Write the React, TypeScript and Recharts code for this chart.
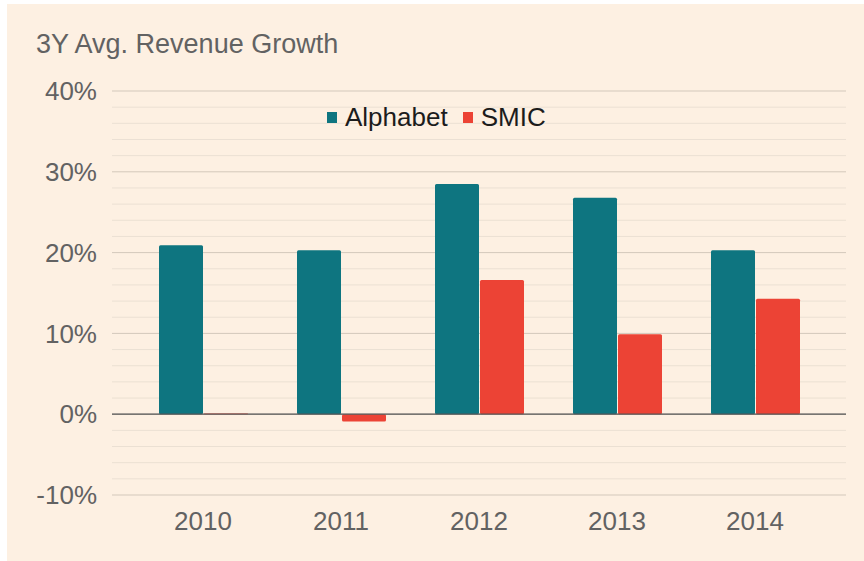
import {
  BarChart,
  Bar,
  XAxis,
  YAxis,
  CartesianGrid,
  ReferenceLine,
  Legend,
} from 'recharts';

const years = ['2010', '2011', '2012', '2013', '2014'];
const alphabet = [20.9, 20.3, 28.5, 26.8, 20.3];
const smic = [0.1, -0.9, 16.6, 9.9, 14.3];
const majorTicks = [-10, 0, 10, 20, 30, 40];
const minorTicks = [-8, -6, -4, -2, 2, 4, 6, 8, 12, 14, 16, 18, 22, 24, 26, 28, 32, 34, 36, 38];

const data = years.map((year, i) => ({
  year,
  Alphabet: alphabet[i],
  SMIC: smic[i],
}));

const colors = {
  bg: '#fdf0e2',
  teal: '#0e7580',
  red: '#ec4335',
  major: '#d3c8bb',
  minor: '#ebe0d3',
  zero: '#555555',
  label: '#626262',
  legendText: '#1c1c1c',
};

const font = '"Liberation Sans", Arial, sans-serif';

function TopLegend({ payload }: { payload?: { value: string; color: string }[] }) {
  if (!payload?.length) return null;
  return (
    <div style={{ display: 'flex', alignItems: 'center', fontFamily: font }}>
      {payload.map((entry, i) => (
        <div
          key={entry.value}
          style={{
            display: 'flex',
            alignItems: 'center',
            marginLeft: i === 0 ? 0 : 15,
            fontSize: 26,
            lineHeight: '30px',
            color: colors.legendText,
          }}
        >
          <span
            style={{
              width: 10,
              height: 11,
              backgroundColor: entry.color,
              marginRight: 8,
              display: 'inline-block',
            }}
          />
          {entry.value}
        </div>
      ))}
    </div>
  );
}

export default function App() {
  return (
    <div
      style={{
        position: 'absolute',
        left: 7,
        top: 4,
        width: 857,
        height: 557,
        backgroundColor: colors.bg,
        fontFamily: font,
      }}
    >
      <div
        style={{
          position: 'absolute',
          left: 29,
          top: 25,
          fontSize: 27,
          lineHeight: '30px',
          color: colors.label,
          whiteSpace: 'nowrap',
        }}
      >
        3Y Avg. Revenue Growth
      </div>
      <BarChart
        width={857}
        height={557}
        data={data}
        margin={{ top: 87, right: 18, left: 0, bottom: 0 }}
        barCategoryGap={25}
        barGap={1}
        style={{ position: 'absolute', left: 0, top: 0 }}
      >
        {/* minor 2% lines first, major 10% lines on top */}
        <CartesianGrid
          vertical={false}
          stroke={colors.minor}
          strokeWidth={1}
          horizontalValues={minorTicks}
        />
        <CartesianGrid vertical={false} stroke={colors.major} strokeWidth={1} />
        <XAxis
          dataKey="year"
          axisLine={false}
          tickLine={false}
          tickSize={0}
          tickMargin={17}
          height={66}
          padding={{ left: 22, right: 22 }}
          tick={{ fontSize: 26, fill: colors.label, fontFamily: font }}
        />
        <YAxis
          domain={[-10, 40]}
          ticks={majorTicks}
          interval={0}
          axisLine={false}
          tickLine={false}
          tickSize={0}
          tickMargin={15}
          width={105}
          tickFormatter={(v: number) => `${v}%`}
          tick={{ fontSize: 26, fill: colors.label, fontFamily: font }}
        />
        <Legend
          layout="horizontal"
          verticalAlign="middle"
          align="center"
          content={<TopLegend />}
          wrapperStyle={{ top: 98, left: 320, width: 'auto', height: 30 }}
        />
        <Bar dataKey="Alphabet" fill={colors.teal} radius={1.5} isAnimationActive={false} />
        <Bar dataKey="SMIC" fill={colors.red} radius={1.5} isAnimationActive={false} />
        <ReferenceLine y={0} stroke={colors.zero} strokeWidth={1.2} />
      </BarChart>
    </div>
  );
}
